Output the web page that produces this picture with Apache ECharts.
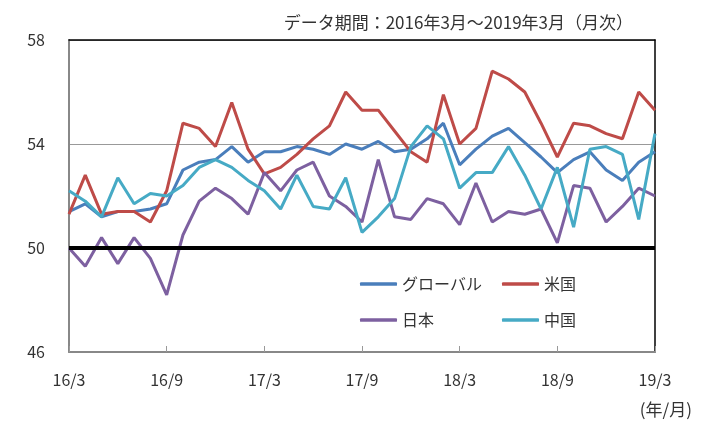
<!DOCTYPE html>
<html><head><meta charset="utf-8">
<script src="https://cdn.jsdelivr.net/npm/echarts@6/dist/echarts.min.js"></script>
<style>html,body{margin:0;padding:0;background:#fff}#c{width:704px;height:421px}</style>
</head><body><div id="c"></div>
<script>
const categories = ["16/3","16/4","16/5","16/6","16/7","16/8","16/9","16/10","16/11","16/12","17/1","17/2",
  "17/3","17/4","17/5","17/6","17/7","17/8","17/9","17/10","17/11","17/12","18/1","18/2",
  "18/3","18/4","18/5","18/6","18/7","18/8","18/9","18/10","18/11","18/12","19/1","19/2","19/3"];
const globalPMI = [51.4,51.7,51.2,51.4,51.4,51.5,51.7,53.0,53.3,53.4,53.9,53.3,53.7,
  53.7,53.9,53.8,53.6,54.0,53.8,54.1,53.7,53.8,54.2,54.8,53.2,
  53.8,54.3,54.6,54.05,53.5,52.9,53.4,53.7,53.0,52.6,53.3,53.7];
const usPMI = [51.3,52.8,51.3,51.4,51.4,51.0,52.2,54.8,54.6,53.9,55.6,53.8,52.85,
  53.1,53.6,54.2,54.7,56.0,55.3,55.3,54.5,53.7,53.3,55.9,54.0,
  54.6,56.8,56.5,56.0,54.8,53.5,54.8,54.7,54.4,54.2,56.0,55.3];
const japanPMI = [50.0,49.3,50.4,49.4,50.4,49.6,48.2,50.5,51.8,52.3,51.9,51.3,52.9,
  52.2,53.0,53.3,52.0,51.6,51.0,53.4,51.2,51.1,51.9,51.7,50.9,
  52.5,51.0,51.4,51.3,51.5,50.2,52.4,52.3,51.0,51.6,52.3,52.0];
const chinaPMI = [52.2,51.8,51.2,52.7,51.7,52.1,52.0,52.4,53.1,53.4,53.1,52.6,52.2,
  51.5,52.8,51.6,51.5,52.7,50.6,51.2,51.9,53.9,54.7,54.2,52.3,
  52.9,52.9,53.9,52.8,51.5,53.1,50.8,53.8,53.9,53.6,51.1,54.4];
const seriesNames = ["グローバル","米国","日本","中国"];
const colors = ["#4A7EBB","#BE4B48","#7D60A0","#46AAC5"];
const yTicks = {min:46, max:58, interval:4};

const FONT = '"Noto Sans CJK JP", "Noto Sans", sans-serif';
const chart = echarts.init(document.getElementById('c'), null, {renderer:'canvas'});
const mk = (name, data, color, extra) => Object.assign({
  name, type:'line', data, symbol:'none', smooth:false,
  lineStyle:{color, width:3}, itemStyle:{color}, z:3
}, extra||{});
const legendText = {fontSize:16, color:'#333', fontFamily:FONT};
chart.setOption({
  animation:false,
  textStyle:{fontFamily:FONT},
  title:{text:'データ期間：2016年3月～2019年3月（月次）', right:66, top:9,
    textStyle:{fontSize:17, fontWeight:'normal', color:'#333', fontFamily:FONT}},
  grid:{left:69, right:49, top:40, bottom:69},
  legend:[
    {data:[seriesNames[0],seriesNames[2]], orient:'vertical', left:355, top:271, itemGap:20,
     icon:'roundRect', itemWidth:37, itemHeight:3.5, textStyle:legendText},
    {data:[seriesNames[1],seriesNames[3]], orient:'vertical', left:497, top:271, itemGap:20,
     icon:'roundRect', itemWidth:37, itemHeight:3.5, textStyle:legendText}
  ],
  xAxis:[
    {type:'category', data:categories, boundaryGap:false,
     axisLine:{lineStyle:{color:'#888', width:2}},
     axisTick:{show:true, inside:true, length:6, interval:5, lineStyle:{color:'#999'}},
     axisLabel:{interval:5, margin:20, fontSize:16, color:'#333', fontFamily:FONT},
     splitLine:{show:false}},
    {type:'category', data:categories, boundaryGap:false, position:'top',
     axisLine:{lineStyle:{color:'#000', width:1.5}}, axisTick:{show:false}, axisLabel:{show:false}}
  ],
  yAxis:[
    {type:'value', min:yTicks.min, max:yTicks.max, interval:yTicks.interval,
     axisLine:{show:true, lineStyle:{color:'#888', width:2}},
     axisTick:{show:false},
     axisLabel:{margin:24, fontSize:16, color:'#333', fontFamily:FONT},
     splitLine:{show:true, lineStyle:{color:'#999', width:1.2}}},
    {type:'value', min:yTicks.min, max:yTicks.max, interval:yTicks.interval, position:'right',
     axisLine:{show:true, lineStyle:{color:'#000', width:1.5}}, axisTick:{show:false},
     axisLabel:{show:false}, splitLine:{show:false}}
  ],
  graphic:[
    {type:'text', right:12, top:401, style:{text:'(年/月)', fill:'#333', font:'17px '+FONT}}
  ],
  series:[
    mk(seriesNames[0], globalPMI, colors[0], {
      markLine:{silent:true, symbol:'none', label:{show:false},
        lineStyle:{color:'#000', width:4, type:'solid'}, data:[{yAxis:50}]}}),
    mk(seriesNames[1], usPMI, colors[1]),
    mk(seriesNames[2], japanPMI, colors[2]),
    mk(seriesNames[3], chinaPMI, colors[3])
  ]
});
</script></body></html>
